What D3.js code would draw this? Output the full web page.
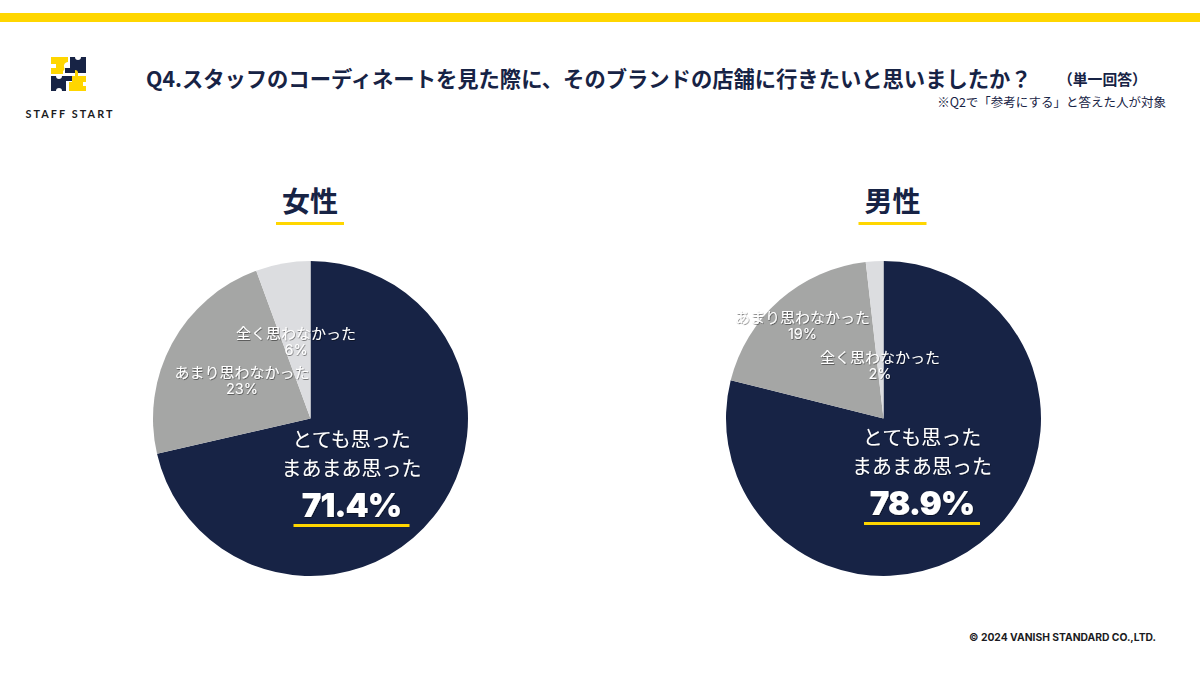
<!DOCTYPE html>
<html><head><meta charset="utf-8">
<script src="https://cdnjs.cloudflare.com/ajax/libs/d3/7.8.5/d3.min.js"></script>
<style>
html,body{margin:0;padding:0;background:#fff}
svg{display:block}
text{font-family:"Noto Sans CJK JP","Noto Sans",sans-serif}
</style></head><body>
<svg id="c" width="1200" height="700" viewBox="0 0 1200 700"></svg>
<script>
const NAVY="#172345", YELLOW="#FFD600";
const answers=["とても思った まあまあ思った","あまり思わなかった","全く思わなかった"];
const groups=["女性","男性"];
const womenValues=[71.4,23.0,5.6];
const menValues=[78.9,19.3,1.8];
const colours=[NAVY,"#A5A6A5","#DCDDE0"];
const titleText="Q4.スタッフのコーディネートを見た際に、そのブランドの店舗に行きたいと思いましたか？";
const titleNote="（単一回答）";
const subText="※Q2で「参考にする」と答えた人が対象";
const leadLines=["とても思った","まあまあ思った"];
const logoText="STAFF START";
const footerText="© 2024 VANISH STANDARD CO.,LTD.";

const svg=d3.select("#c");
svg.append("defs").append("filter").attr("id","sh").attr("x","-10%").attr("y","-20%").attr("width","120%").attr("height","150%")
  .append("feDropShadow").attr("dx",0.6).attr("dy",0.8).attr("stdDeviation",0.7).attr("flood-color","#000").attr("flood-opacity",0.55);

svg.append("rect").attr("x",0).attr("y",13).attr("width",1200).attr("height",9).attr("fill",YELLOW);

// logo: four jigsaw pieces
const logo=svg.append("g").attr("transform","translate(51,56)");
logo.append("path").attr("fill",YELLOW).attr("d","M0,1H17V6a4,4 0 0 0 -4,5a3,3 0 0 1 -1,4V18H0V12H5V8H0Z");
logo.append("path").attr("fill",NAVY).attr("d","M19,1H24a3,3 0 0 0 6,0H35V17H14V12H19Z");
logo.append("path").attr("fill",NAVY).attr("d","M0,20H5a3,3 0 0 0 6,0H21V25H15V35H11a3,3 0 0 0 -6,0H0Z");
logo.append("path").attr("fill",YELLOW).attr("d","M24,14a3,3 0 0 1 3,3V20H35V26H32V30H35V35H18V26H21V20H24Z");
svg.append("text").attr("x",70).attr("y",118).attr("text-anchor","middle").attr("fill","#1b1b22")
  .style("font-family","Lato,'Noto Sans',sans-serif").style("font-weight",700).style("font-size","10.8px").style("letter-spacing","2.1px").text(logoText);

// header
svg.append("text").attr("x",146).attr("y",87).attr("fill",NAVY).style("font-weight",700).style("font-size","21.3px").text(titleText);
svg.append("text").attr("x",1058).attr("y",85).attr("fill",NAVY).style("font-weight",700).style("font-size","14.8px").text(titleNote);
svg.append("text").attr("x",1166).attr("y",107).attr("text-anchor","end").attr("fill",NAVY).style("font-size","12.5px").text(subText);
svg.append("text").attr("x",1156).attr("y",641).attr("text-anchor","end").attr("fill","#1b1b22")
  .style("font-family","Inter,sans-serif").style("font-weight",700).style("font-size","10.3px").text(footerText);

const pie=d3.pie().sort(null).value(d=>d);
const arc=d3.arc().innerRadius(0).outerRadius(157.5);
const fmt=d3.format(".0f"), fmt1=d3.format(".1f");

const panels=[
 {name:groups[0],vals:womenValues,cx:310.5,cy:418.5,hx:310,lx:351.5,off:0,lab:[null,[-68.5,-41],[-14.5,-80]]},
 {name:groups[1],vals:menValues,cx:883.5,cy:418.5,hx:892.5,lx:922,off:-2,lab:[null,[-81,-96],[-3.5,-56]]}
];
panels.forEach(p=>{
  const g=svg.append("g").attr("transform",`translate(${p.cx},${p.cy})`);
  g.selectAll("path").data(pie(p.vals)).join("path").attr("d",arc).attr("fill",(d,i)=>colours[i]);
  svg.append("text").attr("x",p.hx).attr("y",212).attr("text-anchor","middle").attr("fill",NAVY)
    .style("font-weight",700).style("font-size","28px").text(p.name);
  svg.append("rect").attr("x",p.hx-34).attr("y",222).attr("width",68).attr("height",3).attr("fill",YELLOW);
  [1,2].forEach(i=>{
    const t=g.append("text").attr("text-anchor","middle").attr("fill","#fff").attr("filter","url(#sh)").style("font-size","15px");
    t.append("tspan").attr("x",p.lab[i][0]).attr("y",p.lab[i][1]).text(answers[i]);
    t.append("tspan").attr("x",p.lab[i][0]).attr("y",p.lab[i][1]+16).style("font-family","Inter,sans-serif").style("font-size","14.5px").text(fmt(p.vals[i])+"%");
  });
  const l=svg.append("g").attr("filter","url(#sh)");
  leadLines.forEach((s,k)=>l.append("text").attr("x",p.lx).attr("y",447+p.off+k*28.5).attr("text-anchor","middle").attr("fill","#fff").style("font-size","20px").text(s));
  l.append("text").attr("x",p.lx).attr("y",517+p.off).attr("text-anchor","middle").attr("fill","#fff")
    .style("font-family","Inter,sans-serif").style("font-weight",900).style("font-size","33px").style("letter-spacing","-1px").text(fmt1(p.vals[0])+"%");
  svg.append("rect").attr("x",p.lx-58).attr("y",524+p.off).attr("width",116).attr("height",3).attr("fill",YELLOW);
});
</script></body></html>
